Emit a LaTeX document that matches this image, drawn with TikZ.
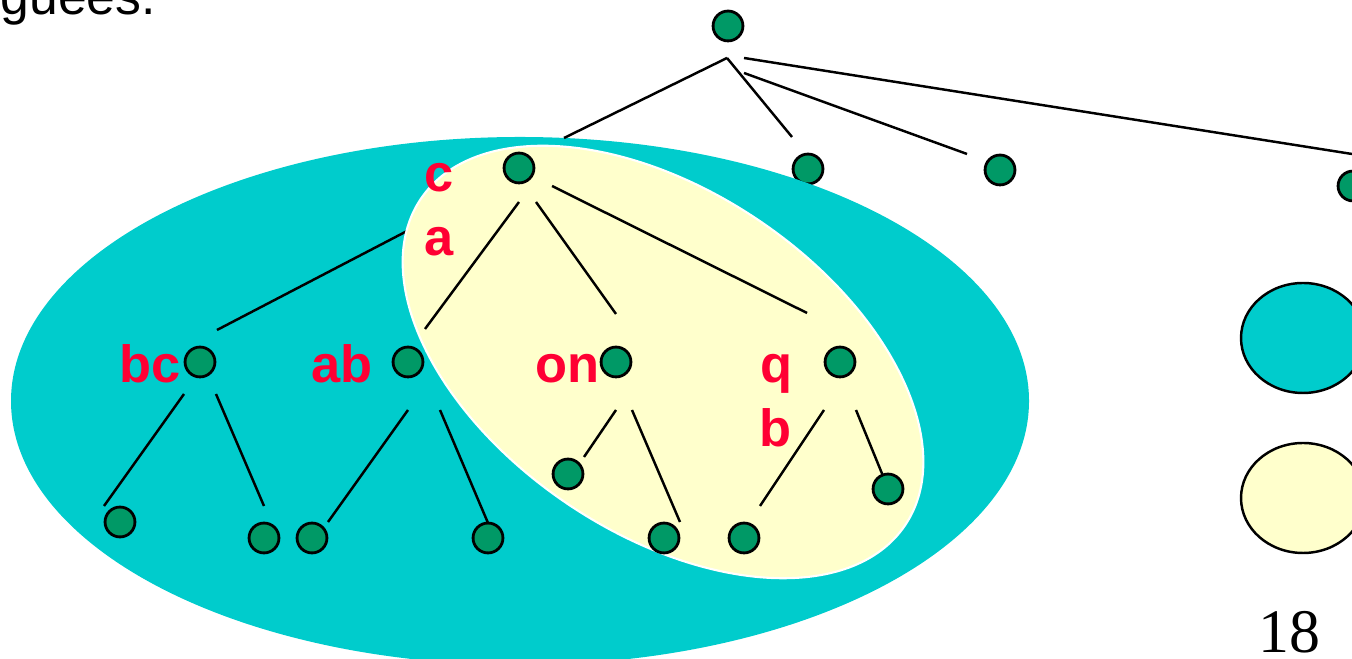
\documentclass[tikz,border=0pt]{standalone}
\usepackage{fontspec}
\setmainfont{Liberation Sans}
\newfontfamily\serifnum{Liberation Serif}
\usetikzlibrary{calc}

\definecolor{setcyan}{HTML}{00CCCC}
\definecolor{setyellow}{HTML}{FFFFCC}
\definecolor{dotgreen}{HTML}{009966}
\definecolor{lblred}{HTML}{FF0033}

\tikzset{
  vertex/.style={circle, draw=black, line width=0.8pt, fill=dotgreen,
      minimum size=8.5pt, inner sep=0pt},
  link/.style={line width=0.7pt},
  lbl/.style={anchor=base west, inner sep=0pt, text=lblred,
      font=\fontsize{14.9}{17}\selectfont\bfseries},
}

\begin{document}
\begin{tikzpicture}[x=0.01cm, y=-0.01cm]
    \useasboundingbox (0,0) rectangle (1352,659);
    \clip (0,0) rectangle (1352,659);

    % top of the tree
    \foreach \n/\x/\y in {root/728/26, n1/808/169, n2/1000/170, n3/1353/186} {
        \node[vertex] (\n) at (\x,\y) {};
      }
    \foreach \p/\q/\sx/\sy/\ex/\ey in {
        root/n1/-1/32/-16/-32, root/n2/16/47/-33/-16, root/n3/16/32/-1/-32
      } {
        \draw[link] ($(\p)+(\sx,\sy)$) -- ($(\q)+(\ex,\ey)$);
      }

    % the two sets
    \fill[setcyan] (520,401) ellipse (509 and 264);
    \node[vertex] (bc) at (200,362) {};
    \coordinate (cbc) at (505,180);
    \draw[link] ($(bc)+(17,-32)$) -- (cbc);
    \filldraw[fill=setyellow, draw=white, line width=0.6pt,
      rotate around={-34:(663,362)}] (663,362) ellipse (292 and 171);

    \foreach \n/\x/\y in {
        c/519/168, ab/408/362, on/616/362, q/840/362,
        bc1/120/522, bc2/264/538, ab1/312/538, ab2/488/538,
        on1/568/474, on2/664/538, q1/744/538, q2/888/489
      } {
        \node[vertex] (\n) at (\x,\y) {};
      }
    \foreach \p/\q/\sx/\sy/\ex/\ey in {
        root/c/-1/32/45/-30, c/ab/0/34/17/-33, c/on/17/34/0/-48, c/q/33/18/-33/-49,
        bc/bc1/-16/32/-16/-16, bc/bc2/16/32/0/-32,
        ab/ab1/0/48/16/-16, ab/ab2/32/48/0/-15,
        on/on1/0/48/16/-17, on/on2/16/48/16/-16,
        q/q1/-16/48/16/-32, q/q2/16/48/-5/-13
      } {
        \draw[link] ($(\p)+(\sx,\sy)$) -- ($(\q)+(\ex,\ey)$);
      }

    \foreach \n/\x/\y/\t in {
        lc/424/192/c, la/424/256/a, lbc/119/383/bc, lab/311/383/ab,
        lon/535/383/on, lq/760/383/q, lb/759/447/b
      } {
        \node[lbl] (\n) at (\x,\y) {\t};
      }

    % legend
    \filldraw[fill=setcyan, draw=black, line width=0.7pt] (1303,338) ellipse (62 and 55);
    \filldraw[fill=setyellow, draw=black, line width=0.7pt] (1303,498) ellipse (62 and 55);

    \node[anchor=base west, inner sep=0pt, font=\fontsize{14.7}{17}\selectfont] (head) at (0,15) {guees.};
    \node[anchor=base west, inner sep=0pt, font=\serifnum\fontsize{17.6}{20}\selectfont] (pagenum) at (1258,653) {18};
  \end{tikzpicture}
\end{document}
